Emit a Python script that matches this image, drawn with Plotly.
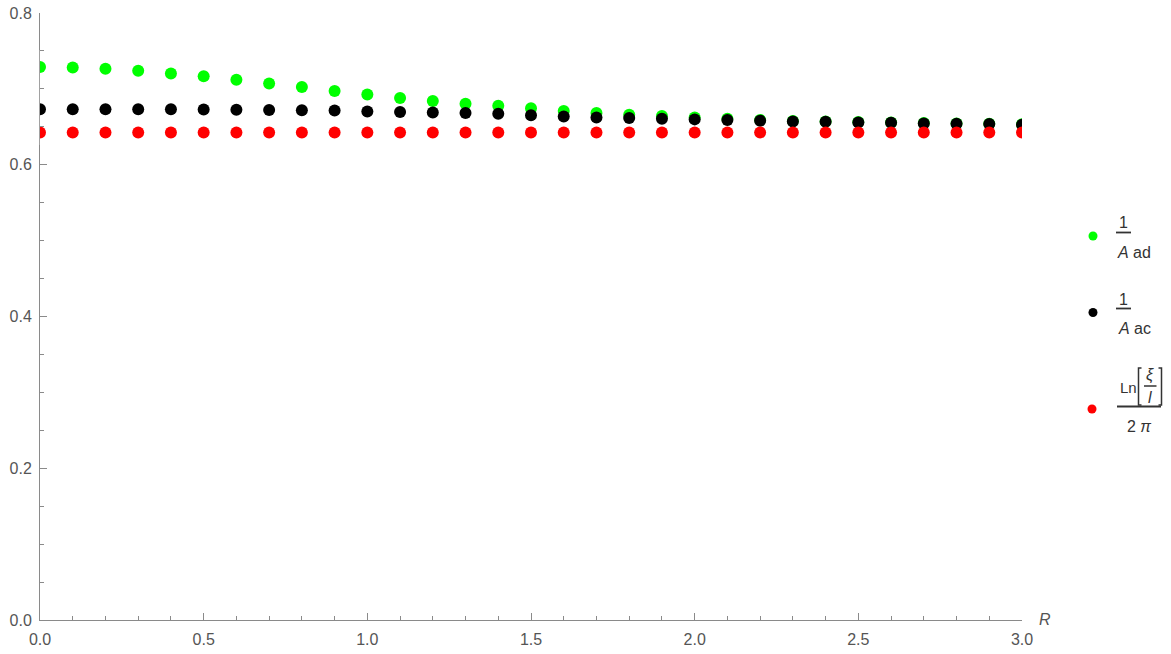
import plotly.graph_objects as go

# ---- data ----
R = [round(0.1 * i, 1) for i in range(31)]
inv_A_ad = [0.7289, 0.7283, 0.7266, 0.7240, 0.7204, 0.7165, 0.7121, 0.7072, 0.7025, 0.6972,
            0.6927, 0.6880, 0.6840, 0.6805, 0.6779, 0.6745, 0.6708, 0.6682, 0.6660, 0.6643,
            0.6624, 0.6607, 0.6590, 0.6578, 0.6571, 0.6563, 0.6558, 0.6550, 0.6545, 0.6541,
            0.6533]
inv_A_ac = [0.6730, 0.6730, 0.6730, 0.6730, 0.6730, 0.6728, 0.6726, 0.6722, 0.6718, 0.6716,
            0.6703, 0.6695, 0.6690, 0.6682, 0.6673, 0.6652, 0.6637, 0.6624, 0.6616, 0.6607,
            0.6598, 0.6590, 0.6581, 0.6571, 0.6567, 0.6558, 0.6554, 0.6545, 0.6541, 0.6537,
            0.6528]
ln_xi_l = [0.6426] * 31

series_colors = ["#00ff00", "#000000", "#ff0000"]

W, H = 1171, 654
ML, MR, MT, MB = 40, 149, 13, 34
PW, PH = W - ML - MR, H - MT - MB


def px(x):
    return (x - ML) / PW


def py(y):
    return (H - MB - y) / PH


fig = go.Figure()
for ys, c in zip([inv_A_ad, inv_A_ac, ln_xi_l], series_colors):
    fig.add_trace(go.Scatter(x=R, y=ys, mode="markers",
                             marker=dict(color=c, size=12, line=dict(width=0)),
                             showlegend=False, cliponaxis=True))

axis_col = "#8a8a8a"
lab_col = "#555555"
font_family = "Liberation Sans, Arial, sans-serif"

fig.update_xaxes(range=[0, 3.0], showgrid=False, zeroline=False, automargin=False,
                 showline=True, linecolor=axis_col, linewidth=1,
                 ticks="inside", ticklen=7, tickcolor=axis_col, tickwidth=1,
                 tickvals=[0, 0.5, 1.0, 1.5, 2.0, 2.5, 3.0], tickformat=".1f",
                 minor=dict(ticks="inside", ticklen=4, tickcolor=axis_col, dtick=0.1, tick0=0, showgrid=False),
                 tickfont=dict(size=16, color=lab_col, family=font_family),
                 ticklabelstandoff=5)
fig.update_yaxes(range=[0, 0.8], showgrid=False, zeroline=False, automargin=False,
                 showline=True, linecolor=axis_col, linewidth=1,
                 ticks="inside", ticklen=7, tickcolor=axis_col, tickwidth=1,
                 tickvals=[0, 0.2, 0.4, 0.6, 0.8], tickformat=".1f",
                 minor=dict(ticks="inside", ticklen=4, tickcolor=axis_col, dtick=0.05, tick0=0, showgrid=False),
                 tickfont=dict(size=16, color=lab_col, family=font_family),
                 ticklabelstandoff=4)

anns = []
shapes = []
txt_col = "#333333"


def txt(x, y, s, size=16, color=txt_col):
    anns.append(dict(x=px(x), y=py(y), xref="paper", yref="paper", text=s,
                     showarrow=False, xanchor="center", yanchor="middle",
                     font=dict(size=size, color=color, family=font_family)))


def hline(x0, x1, y, w=1.8):
    shapes.append(dict(type="line", xref="paper", yref="paper",
                       x0=px(x0), x1=px(x1), y0=py(y), y1=py(y),
                       line=dict(color=txt_col, width=w)))


def dot(x, y, c, d=9):
    shapes.append(dict(type="circle", xref="paper", yref="paper",
                       xsizemode="pixel", ysizemode="pixel",
                       xanchor=px(x), yanchor=py(y),
                       x0=-d / 2, x1=d / 2, y0=-d / 2, y1=d / 2,
                       fillcolor=c, line=dict(width=0)))


# mask marker parts lying outside the plot frame (edge points are half-clipped)
for x0, x1, y0, y1 in [(15, 39.2, 50, 145), (1022.8, 1036, 95, 145)]:
    shapes.append(dict(type="rect", xref="paper", yref="paper", layer="above",
                       x0=px(x0), x1=px(x1), y0=py(y1), y1=py(y0),
                       fillcolor="white", line=dict(width=0)))

# axis label R
txt(1045, 619, "<i>R</i>", size=16, color=lab_col)

# legend entry 1
dot(1093, 236, series_colors[0])
txt(1123, 222, "1")
hline(1116, 1131, 232.5)
txt(1134, 252, "<i>A</i> ad")

# legend entry 2
dot(1093, 312.5, series_colors[1])
txt(1123, 299, "1")
hline(1116, 1131, 308.5)
txt(1134, 328.5, "<i>A</i> ac")

# legend entry 3
dot(1092, 409, series_colors[2])
txt(1128, 387, "Ln", size=15)
txt(1150, 375, "<i>ξ</i>", size=16)
hline(1144, 1156.5, 386, w=1.5)
txt(1149.5, 397, "<i>l</i>", size=16)
# brackets
for xa, xb in [(1141.5, 1138.5), (1158.5, 1161.5)]:
    shapes.append(dict(type="path", xref="paper", yref="paper",
                       path=f"M {px(xa)} {py(368)} L {px(xb)} {py(368)} L {px(xb)} {py(405)} L {px(xa)} {py(405)}",
                       line=dict(color=txt_col, width=1.5)))
hline(1117, 1161, 406.5)
txt(1139, 426, "2 <i>π</i>", size=16)

fig.update_layout(width=W, height=H,
                  margin=dict(l=ML, r=MR, t=MT, b=MB, pad=0),
                  plot_bgcolor="white", paper_bgcolor="white",
                  annotations=anns, shapes=shapes,
                  font=dict(family=font_family))

fig.write_html("out.html")
